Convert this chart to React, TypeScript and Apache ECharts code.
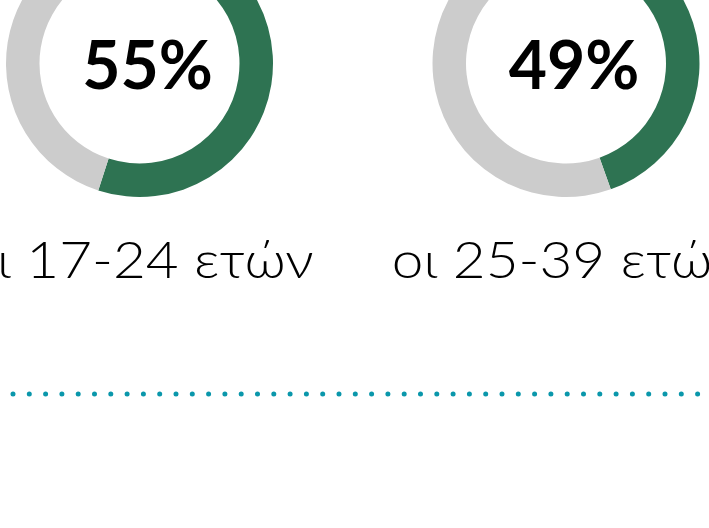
import React, { useEffect, useRef } from "react";
import * as echarts from "echarts";

const categories = ["οι 17-24 ετών", "οι 25-39 ετών"];
const shares = [55, 49];
const percentLabels = ["55%", "49%"];

const GREEN = "#2e7352";
const GREY = "#cccccc";
const TEAL = "#0a97ab";

export default function App() {
  const ref = useRef<HTMLDivElement>(null);
  useEffect(() => {
    if (!ref.current) return;
    const chart = echarts.init(ref.current, undefined, { renderer: "svg" });
    const centers = [139.5, 566];
    const starts = [90, 106];
    const cy = 63.5;
    const series: any[] = shares.map((v, i) => ({
      type: "pie",
      center: [centers[i], cy],
      radius: [100, 133.5],
      startAngle: starts[i],
      clockwise: true,
      silent: true,
      label: { show: false },
      labelLine: { show: false },
      itemStyle: { borderWidth: 0 },
      data: [
        { value: v, name: "yes", itemStyle: { color: GREEN } },
        { value: 100 - v, name: "no", itemStyle: { color: GREY } },
      ],
    }));
    const graphic: any[] = [];
    percentLabels.forEach((t, i) => {
      graphic.push({
        type: "text",
        x: centers[i] + 8,
        y: 63,
        style: {
          text: t,
          fill: "#000",
          font: "bold 66px Lato, 'Noto Sans', sans-serif",
          textAlign: "center",
          textVerticalAlign: "middle",
        },
      });
    });
    categories.forEach((t, i) => {
      graphic.push({
        type: "text",
        x: centers[i],
        y: 258,
        scaleX: 1.09,
        style: {
          text: t,
          fill: "#000",
          font: "300 52px Lato, 'Noto Sans', sans-serif",
          textAlign: "center",
          textVerticalAlign: "middle",
        },
      });
    });
    graphic.push({
      type: "line",
      shape: { x1: 13, y1: 394, x2: 698, y2: 394 },
      style: {
        stroke: TEAL,
        lineWidth: 5,
        lineCap: "round",
        lineDash: [0, 16.3],
      },
    });
    chart.setOption({
      animation: false,
      backgroundColor: "#ffffff",
      series,
      graphic,
    });
    return () => chart.dispose();
  }, []);
  return (
    <div
      ref={ref}
      style={{ position: "fixed", left: 0, top: 0, width: 709, height: 528 }}
    />
  );
}
